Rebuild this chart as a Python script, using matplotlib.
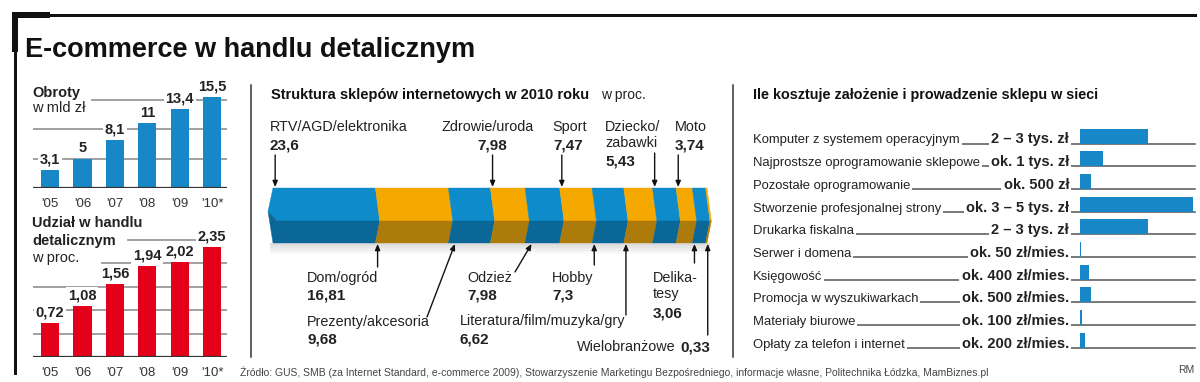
import matplotlib
matplotlib.use("Agg")
import matplotlib.pyplot as plt
from matplotlib.patches import Polygon, Rectangle
from matplotlib.transforms import Affine2D, blended_transform_factory
import numpy as np

# %% data
years = ["'05", "'06", "'07", "'08", "'09", "'10*"]
turnover = [3.1, 5, 8.1, 11, 13.4, 15.5]            # mld zł
retail_share = [0.72, 1.08, 1.56, 1.94, 2.02, 2.35]  # proc.

shop_categories = ["RTV/AGD/elektronika", "Dom/ogród", "Prezenty/akcesoria",
                   "Zdrowie/uroda", "Odzież", "Sport", "Hobby",
                   "Literatura/film/muzyka/gry", "Dziecko/\nzabawki", "Moto",
                   "Delika-\ntesy", "Wielobranżowe"]
shop_shares = [23.6, 16.81, 9.68, 7.98, 7.98, 7.47, 7.3, 6.62, 5.43, 3.74, 3.06, 0.33]

cost_items = ["Komputer z systemem operacyjnym", "Najprostsze oprogramowanie sklepowe",
              "Pozostałe oprogramowanie", "Stworzenie profesjonalnej strony",
              "Drukarka fiskalna", "Serwer i domena", "Księgowość",
              "Promocja w wyszukiwarkach", "Materiały biurowe",
              "Opłaty za telefon i internet"]
cost_texts = ["2 – 3 tys. zł", "ok. 1 tys. zł", "ok. 500 zł", "ok. 3 – 5 tys. zł",
              "2 – 3 tys. zł", "ok. 50 zł/mies.", "ok. 400 zł/mies.",
              "ok. 500 zł/mies.", "ok. 100 zł/mies.", "ok. 200 zł/mies."]
cost_values = [3000, 1000, 500, 5000, 3000, 50, 400, 500, 100, 200]  # zł

# %% style
plt.rcParams["font.family"] = ["Liberation Sans", "DejaVu Sans"]
BLUE = "#1787c8"
RED = "#e2001a"
GRID = "#9a9a9a"
TXT = "#222222"
seg_light = ["#0d8bcb", "#f5a800"]
seg_dark = ["#0b6797", "#ad7a0c"]

W, H = 1200, 382
fig = plt.figure(figsize=(W / 100, H / 100), dpi=100)
px = Affine2D().scale(1 / W, -1 / H).translate(0, 1) + fig.transFigure


def box(x0, y0, x1, y1):
    return [x0 / W, 1 - y1 / H, (x1 - x0) / W, (y1 - y0) / H]


def fmt(v):
    return f"{v:g}".replace(".", ",")


# frame
for r in [(12, 12, 6, 40), (12, 12, 38, 6), (13.5, 50, 3.5, 325), (48, 13.5, 1149, 3.5)]:
    fig.add_artist(Rectangle((r[0], r[1]), r[2], r[3], transform=px, color="#111", lw=0))
for x in (251, 733):
    fig.add_artist(plt.Line2D([x, x], [85, 357], transform=px, color="#333", lw=1.1))

fig.text(25, 50, "E-commerce w handlu detalicznym", transform=px, fontsize=19.5,
         weight="bold", va="center", color="#111")

# %% left: turnover and share
def small_bars(bbox, values, color, top, gridvals, gridstart, heads):
    ax = fig.add_axes(box(*bbox))
    x = np.arange(len(values))
    for g, xs in zip(gridvals, gridstart):
        ax.axhline(g, xmin=xs, xmax=1, color=GRID, lw=1.3, zorder=0)
    ax.axhline(0, color="#333", lw=1.6, zorder=3)
    ax.bar(x, values, width=0.56, color=color, zorder=2)
    for xi, v in zip(x, values):
        ax.annotate(fmt(v), (xi, v), xytext=(0, 2.5), textcoords="offset points",
                    ha="center", va="bottom", fontsize=10.5, weight="bold", color=TXT,
                    bbox=dict(boxstyle="square,pad=0.12", fc="white", ec="none"), zorder=4)
    ax.set_xlim(-0.525, 5.46)
    ax.set_ylim(0, top)
    ax.set_xticks(x, years)
    ax.tick_params(axis="x", length=0, pad=7, labelsize=9.5, labelcolor="#333")
    ax.set_yticks([])
    for s in ax.spines.values():
        s.set_visible(False)
    ax.patch.set_alpha(0)
    for txt, y, bold in heads:
        fig.text(32, y, txt, transform=px, fontsize=10.5,
                 weight="bold" if bold else "normal", va="center", color=TXT)
    return ax


small_bars((33, 80, 227, 188), turnover, BLUE, 108 / 5.87, [5, 10, 15], [0, 0, 0.304],
           [("Obroty", 93, True), ("w mld zł", 108, False)])
small_bars((33, 230, 227, 357), retail_share, RED, 127 / 46.8, [0.5, 1, 1.5, 2, 2.5],
           [0, 0, 0, 0.356, 0.49],
           [("Udział w handlu", 223, True), ("detalicznym", 241, True), ("w proc.", 258, False)])

# %% middle: shop structure bar
fig.text(271, 95, "Struktura sklepów internetowych w 2010 roku", transform=px,
         fontsize=10.5, weight="bold", va="center", color="#111")
fig.text(601, 95, "w proc.", transform=px, fontsize=10, va="center", color=TXT)

axm = fig.add_axes(box(273, 188, 707, 243))
axm.set_xlim(0, 100)
axm.set_ylim(0, 55)
axm.axis("off")
top, ridge, d = 55, 22, 1.0
ends = np.cumsum(shop_shares)
starts = ends - np.array(shop_shares)
for k in range(7):
    h = 1.5 * (k + 1)
    axm.add_patch(Rectangle((-0.8, -h), 101.6, h, color="#888", alpha=0.045, lw=0, clip_on=False))
cap = (-1.15, 31.5)
for i, (c0, c1) in enumerate(zip(starts, ends)):
    up = [(c0, top), (c1, top), (c1 + d, ridge), (c0 + d, ridge)]
    lo = [(c0 + d, ridge), (c1 + d, ridge), (c1, 0), (c0, 0)]
    if i == 0:
        up = up + [cap]
        lo = [cap] + lo
    axm.add_patch(Polygon(up, closed=True, fc=seg_light[i % 2], ec=seg_light[i % 2], lw=0.3, clip_on=False))
    axm.add_patch(Polygon(lo, closed=True, fc=seg_dark[i % 2], ec=seg_dark[i % 2], lw=0.3, clip_on=False))

# label layout: name x, name y, value x, arrow tail (x or None for vertical, y) in px
label_layout = {
    "RTV/AGD/elektronika": (270, 128, 270, (None, 155)),
    "Zdrowie/uroda": (442, 128, 477, (None, 155)),
    "Sport": (552, 128, 553, (None, 155)),
    "Dziecko/\nzabawki": (605, 128, 605, (None, 153)),
    "Moto": (675, 128, 675, (None, 155)),
    "Dom/ogród": (307, 279, 307, (None, 267)),
    "Prezenty/akcesoria": (307, 323, 307, (427, 317)),
    "Odzież": (467, 279, 467, (515, 272)),
    "Hobby": (552, 279, 552, (None, 265)),
    "Literatura/film/muzyka/gry": (460, 322, 460, (None, 315)),
    "Delika-\ntesy": (653, 279, 653, (None, 263)),
    "Wielobranżowe": (676, 347, 680, (None, 335)),
}
arrow = dict(arrowstyle="-|>,head_length=0.35,head_width=0.15", color="#111", lw=1.0,
             shrinkA=0, shrinkB=0)
blend_m = blended_transform_factory(axm.transData, px)
for name, val, c0 in zip(shop_categories, shop_shares, starts):
    nx, ny, vx, (tx, ty) = label_layout[name]
    lines = name.count("\n") + 1
    if name == "Wielobranżowe":
        fig.text(nx, ny, name, transform=px, fontsize=10.4, ha="right", va="center", color=TXT)
        fig.text(vx, ny, fmt(val), transform=px, fontsize=11, weight="bold", va="center", color=TXT)
    else:
        fig.text(nx, ny - 8, name, transform=px, fontsize=10.4, va="top",
                 linespacing=1.15, color=TXT)
        fig.text(vx, ny + 17 * lines, fmt(val), transform=px, fontsize=11, weight="bold",
                 va="center", color=TXT)
    head_y = top + 1 if ny < 188 else -1
    if tx is None:
        axm.annotate("", (c0 + 0.5, head_y), xytext=(c0 + 0.5, ty), textcoords=blend_m,
                     arrowprops=arrow, annotation_clip=False)
    else:
        axm.annotate("", (c0 + d + 0.5, head_y), xytext=(tx, ty), textcoords=px,
                     arrowprops=arrow, annotation_clip=False)

# %% right: costs
fig.text(753, 95, "Ile kosztuje założenie i prowadzenie sklepu w sieci", transform=px,
         fontsize=10.4, weight="bold", va="center", color="#111")
axr = fig.add_axes(box(1080, 120.8, 1195, 347.8))
axr.set_xlim(0, 5000 * 115 / 113)
axr.set_ylim(len(cost_items) - 1, -1)
axr.axis("off")
blend_r = blended_transform_factory(px, axr.transData)
rows = np.arange(len(cost_items))
for i in rows:
    axr.plot([753, 1195], [i, i], transform=blend_r, color="#555", lw=1.1, clip_on=False, zorder=1)
axr.barh(rows - 0.33, cost_values, height=0.66, color=BLUE, zorder=2)
for i, item, txt in zip(rows, cost_items, cost_texts):
    fig.text(753, i, item, transform=blend_r, fontsize=9.4, va="baseline", color=TXT,
             bbox=dict(boxstyle="square,pad=0.15", fc="white", ec="none"), zorder=3)
    fig.text(1069, i, txt, transform=blend_r, fontsize=10.5, weight="bold", ha="right",
             va="baseline", color=TXT,
             bbox=dict(boxstyle="square,pad=0.15", fc="white", ec="none"), zorder=3)

# %% footer
fig.text(240, 372, "Źródło: GUS, SMB (za Internet Standard, e-commerce 2009), Stowarzyszenie "
         "Marketingu Bezpośredniego, informacje własne, Politechnika Łódzka, MamBiznes.pl",
         transform=px, fontsize=7.5, va="center", color="#444")
fig.text(1178, 370, "RM", transform=px, fontsize=7.5, va="center", color="#444")

fig.savefig("out.png", dpi=100)
